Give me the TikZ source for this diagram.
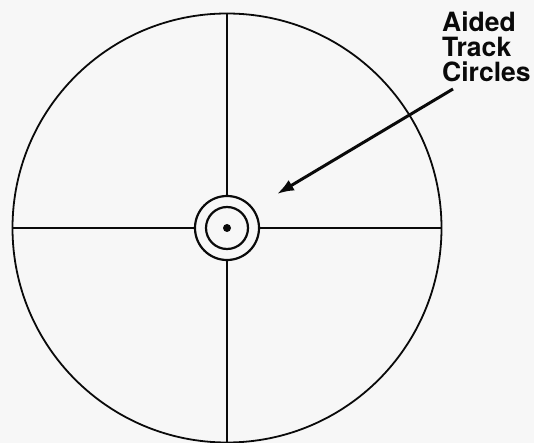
\documentclass[tikz,border=0pt]{standalone}
\usepackage{fontspec}
\newfontfamily\lblfont{TeX Gyre Heros}
\usetikzlibrary{arrows.meta}
\definecolor{bg}{RGB}{247,247,247}
\definecolor{ink}{RGB}{10,10,10}
\begin{document}
\begin{tikzpicture}[x=1pt,y=-1pt,
  ringstyle/.style={circle,draw=ink,line width=2.2pt,inner sep=0pt},
  crossline/.style={draw=ink,line width=1.5pt},
  pointer/.style={draw=ink,line width=3pt,-{Latex[length=17pt,width=12pt]}},
  lbl/.style={font={\lblfont\bfseries\fontsize{26.5}{25}\selectfont},align=left,inner sep=0pt,text=ink}]
\fill[bg] (0,0) rectangle (534,443);
\useasboundingbox (0,0) rectangle (534,443);
\node[circle,draw=ink,line width=1.8pt,minimum size=429pt,inner sep=0pt] (big) at (227,228) {};
\node[ringstyle,minimum size=64pt] (outer) at (227,228) {};
\node[ringstyle,minimum size=42pt] (inner) at (227,228) {};
\node[circle,fill=ink,minimum size=8pt,inner sep=0pt] (dot) at (227,228) {};
\draw[crossline] (big.north) -- (outer.north);
\draw[crossline] (outer.south) -- (big.south);
\draw[crossline] (big.west) -- (outer.west);
\draw[crossline] (outer.east) -- (big.east);
\node[lbl,anchor=north west] (label) at (442,11.5) {Aided\\Track\\Circles};
\coordinate (from) at (453,89);
\coordinate (tip) at (277,194);
\draw[pointer] (from) -- (tip);
\end{tikzpicture}
\end{document}
